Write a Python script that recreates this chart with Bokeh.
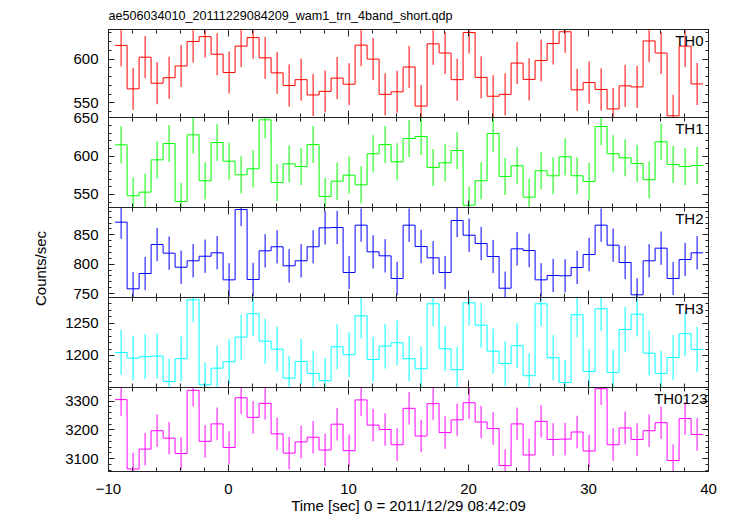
from bokeh.plotting import figure
from bokeh.models import Range1d, LinearAxis, FixedTicker, Label, ColumnDataSource
from bokeh.layouts import column, row
from bokeh.embed import file_html
from bokeh.resources import INLINE

# ---------------- data ----------------
TITLE = "ae506034010_20111229084209_wam1_trn_4band_short.qdp"
XLABEL = "Time [sec] 0 = 2011/12/29 08:42:09"
YLABEL = "Counts/sec"
BANDS = ["TH0", "TH1", "TH2", "TH3", "TH0123"]

T_FIRST = -8.95      # centre of first 1-s bin
BIN_WIDTH = 1.0
N_BINS = 49
TIME = [round(T_FIRST + i * BIN_WIDTH, 2) for i in range(N_BINS)]

TH0 = [615.7, 566.0, 602.2, 572.4, 578.7, 592.2, 620.1, 625.7, 605.6, 584.7,
       614.9, 624.6, 601.5, 584.3, 569.8, 576.5, 559.0, 563.1, 578.3, 571.3,
       616.0, 600.0, 559.7, 562.6, 591.0, 546.3, 617.5, 607.0, 576.5, 630.5,
       579.1, 557.5, 559.7, 595.5, 576.8, 598.4, 617.9, 631.3, 564.9, 573.2,
       565.3, 543.0, 569.4, 568.2, 620.8, 607.0, 535.1, 614.9, 571.6]
TH1 = [614.8, 548.3, 553.0, 595.2, 616.5, 540.9, 627.8, 567.9, 617.8, 593.4,
       575.7, 583.5, 647.4, 565.6, 590.0, 586.5, 615.2, 547.4, 567.3, 575.2,
       562.6, 603.1, 615.2, 592.6, 623.0, 625.6, 585.2, 591.3, 607.4, 536.0,
       567.9, 629.5, 573.5, 587.4, 546.5, 580.9, 574.4, 599.2, 574.4, 566.9,
       638.7, 603.1, 597.8, 590.4, 569.2, 618.7, 589.1, 586.5, 587.8]
TH2 = [871.5, 758.0, 784.1, 833.5, 818.7, 794.8, 805.7, 813.5, 819.3, 773.3,
       893.0, 773.9, 822.7, 829.6, 797.2, 805.7, 829.6, 861.9, 862.4, 785.8,
       866.4, 821.0, 814.2, 775.6, 866.4, 830.1, 810.8, 785.8, 874.4, 849.3,
       835.2, 813.0, 759.0, 826.1, 823.3, 773.3, 780.7, 780.2, 794.3, 816.4,
       866.4, 832.3, 802.8, 747.8, 805.7, 827.2, 775.6, 807.9, 819.3]
TH3 = [1204.7, 1195.9, 1198.1, 1199.0, 1159.9, 1195.0, 1286.2, 1154.8, 1180.4, 1190.3,
       1228.4, 1264.5, 1222.2, 1209.8, 1165.0, 1190.8, 1172.3, 1161.0, 1213.5, 1201.2,
       1261.4, 1193.9, 1214.5, 1219.7, 1195.0, 1179.5, 1280.0, 1210.4, 1178.0, 1281.5,
       1246.9, 1206.7, 1187.7, 1215.1, 1168.7, 1280.0, 1196.5, 1158.3, 1263.0, 1175.3,
       1272.3, 1173.8, 1240.3, 1263.9, 1203.6, 1172.3, 1197.0, 1233.6, 1209.4]
TH0123 = [3305.5, 3064.3, 3133.4, 3197.4, 3171.4, 3118.2, 3338.0, 3160.4, 3221.1, 3139.0,
          3312.0, 3243.8, 3292.5, 3186.4, 3119.5, 3158.4, 3174.7, 3130.2, 3220.1, 3127.9,
          3304.5, 3216.9, 3201.6, 3148.7, 3275.3, 3178.9, 3291.6, 3190.9, 3235.1, 3294.8,
          3227.6, 3204.9, 3076.0, 3221.1, 3113.0, 3229.9, 3166.9, 3168.2, 3192.9, 3126.9,
          3343.5, 3148.7, 3207.1, 3166.9, 3197.4, 3225.3, 3093.5, 3239.6, 3184.4]
SERIES = [TH0, TH1, TH2, TH3, TH0123]
ERRORS = [24.1, 24.2, 28.4, 34.8, 56.6]   # 1-sigma error bar half-length per band

X_RANGE = (-10, 40)
X_TICKS = [-10, 0, 10, 20, 30, 40]
X_TICK_LABELS = ["\u221210", "0", "10", "20", "30", "40"]
X_MINOR_STEP = 2
Y_RANGES = [(533.2, 633.9), (533.0, 650.4), (743.2, 896.5), (1150.5, 1289.7), (3055.5, 3347.7)]
Y_TICKS = [[550, 600], [550, 600, 650], [750, 800, 850], [1200, 1250], [3100, 3200, 3300]]
Y_MINOR_STEP = [10, 10, 10, 10, 20]

# ---------------- style ----------------
COLORS = ["#ff0000", "#00ff00", "#0000ff", "#00ffff", "#ff00ff"]
FONT = "Liberation Sans"
LABEL_W = 58
LEFT = 50
RIGHT = 20
FRAME_W = 600
FRAME_H = 90
TOP = 27
BOTTOM = 39
E = 10
AX_COLOR = "#222222"
LABEL_DX = [-5, -5, -5, -5, -1]


def minor_list(lo, hi, step):
    out = []
    v = int(lo // step) * step
    while v <= hi:
        if v >= lo:
            out.append(v)
        v += step
    return out


x_range = Range1d(*X_RANGE)
x_minor = minor_list(X_RANGE[0], X_RANGE[1], X_MINOR_STEP)
overrides = {t: s for t, s in zip(X_TICKS, X_TICK_LABELS)}

panels = []
last = len(BANDS) - 1
for k, (name, vals, err, color) in enumerate(zip(BANDS, SERIES, ERRORS, COLORS)):
    top = TOP if k == 0 else E
    bottom = BOTTOM if k == last else E
    lo, hi = Y_RANGES[k]
    p = figure(width=LEFT + FRAME_W + RIGHT, height=top + FRAME_H + bottom,
               x_range=x_range, y_range=Range1d(lo, hi),
               output_backend="svg", toolbar_location=None,
               x_axis_location=None, y_axis_location=None,
               min_border_left=LEFT, min_border_right=RIGHT,
               min_border_top=top, min_border_bottom=bottom,
               margin=(0 if k == 0 else -E, 0, 0 if k == last else -E, 0))
    p.border_fill_color = None
    p.background_fill_color = "white"
    p.outline_line_color = AX_COLOR
    p.grid.visible = False

    if k == 0:
        p.title.text = TITLE
        p.title.align = "left"
        p.title.text_font = FONT
        p.title.text_font_size = "12.6px"
        p.title.text_font_style = "normal"
        p.title.text_color = "black"
        p.title.standoff = 13

    y_minor = minor_list(lo, hi, Y_MINOR_STEP[k])
    for side in ["left", "right", "above", "below"]:
        ax = LinearAxis()
        if side in ("left", "right"):
            ax.ticker = FixedTicker(ticks=Y_TICKS[k], minor_ticks=y_minor)
            ax.major_tick_in, ax.minor_tick_in = 6, 3
        else:
            ax.ticker = FixedTicker(ticks=X_TICKS, minor_ticks=x_minor)
            ax.major_tick_in, ax.minor_tick_in = 7, 4
            ax.major_label_overrides = overrides
        ax.major_tick_out = 0
        ax.minor_tick_out = 0
        ax.axis_line_color = AX_COLOR
        ax.major_tick_line_color = AX_COLOR
        ax.minor_tick_line_color = AX_COLOR
        labeled = side == "left" or (side == "below" and k == last)
        if labeled:
            ax.major_label_text_font = FONT
            ax.major_label_text_font_size = "15px"
            ax.major_label_text_color = "black"
            ax.major_label_standoff = 10 if side == "left" else 12
        else:
            ax.major_label_text_font_size = "2px"
            ax.major_label_text_color = None
            ax.major_label_standoff = 0
        if side == "below" and k == last:
            ax.axis_label = XLABEL
            ax.axis_label_text_font = FONT
            ax.axis_label_text_font_size = "15px"
            ax.axis_label_text_font_style = "normal"
            ax.axis_label_text_color = "black"
            ax.axis_label_standoff = 0
        p.add_layout(ax, side)

    edges = [t - BIN_WIDTH / 2 for t in TIME] + [TIME[-1] + BIN_WIDTH / 2]
    step_y = list(vals) + [vals[-1]]
    p.step(x=edges, y=step_y, mode="after", line_color=color, line_width=1)

    src = ColumnDataSource(dict(t=TIME, lo=[v - err for v in vals], hi=[v + err for v in vals]))
    p.segment(x0="t", y0="lo", x1="t", y1="hi", source=src, line_color=color, line_width=1)

    p.add_layout(Label(x=X_RANGE[1], y=hi, x_offset=LABEL_DX[k], y_offset=-2,
                       text=name, text_align="right", text_baseline="top",
                       text_font=FONT, text_font_size="15px", text_color="black"))
    panels.append(p)

total_h = TOP + FRAME_H * len(BANDS) + BOTTOM
lab = figure(width=LABEL_W, height=total_h, x_range=Range1d(0, LABEL_W),
             y_range=Range1d(total_h, 0), output_backend="svg", toolbar_location=None,
             x_axis_location=None, y_axis_location=None,
             min_border_left=0, min_border_right=0, min_border_top=0, min_border_bottom=0)
lab.outline_line_color = None
lab.grid.visible = False
lab.add_layout(Label(x=40, y=268, text=YLABEL, angle=1.5707963, text_align="center",
                     text_baseline="middle", text_font=FONT, text_font_size="15px",
                     text_color="black"))

layout = row(lab, column(*panels))
open("out.html", "w").write(file_html(layout, INLINE))
